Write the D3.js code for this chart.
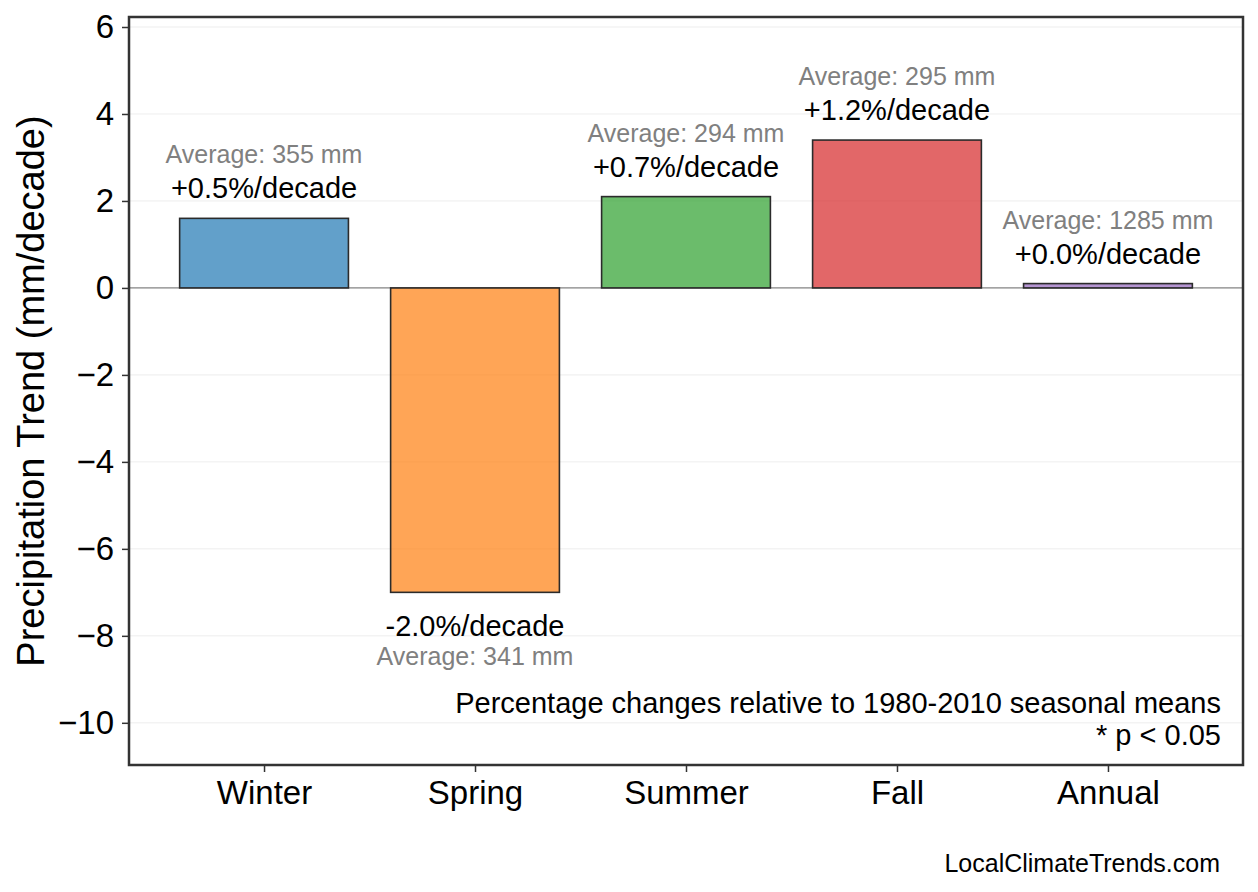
<!DOCTYPE html>
<html>
<head>
<meta charset="utf-8">
<script src="https://cdn.jsdelivr.net/npm/d3@7"></script>
<style>
  body { margin: 0; background: #fff; }
  text { font-family: "Liberation Sans", Arial, Helvetica, sans-serif; }
</style>
</head>
<body>
<svg id="chart" width="1258" height="892"></svg>
<script>
const seasons = ["Winter", "Spring", "Summer", "Fall", "Annual"];
const trends = [1.6, -7.0, 2.1, 3.4, 0.1];
const pctLabels = ["+0.5%/decade", "-2.0%/decade", "+0.7%/decade", "+1.2%/decade", "+0.0%/decade"];
const averages = [355, 341, 294, 295, 1285];
const barColors = ["#1f77b4", "#ff7f0e", "#2ca02c", "#d62728", "#9467bd"];
const yTicks = [-10, -8, -6, -4, -2, 0, 2, 4, 6];

const margin = {left: 129, right: 15, top: 17, bottom: 127};
const W = 1258, H = 892;
const plotW = W - margin.left - margin.right;
const plotH = H - margin.top - margin.bottom;

const svg = d3.select('#chart');
const g = svg.append('g').attr('transform', `translate(${margin.left},${margin.top})`);

const xScale = d3.scaleLinear().domain([-0.64, 4.64]).range([0, plotW]);
const yScale = d3.scaleLinear().domain([-10.97, 6.23]).range([plotH, 0]);
const barW = xScale(0.8) - xScale(0);

// grid
g.selectAll('.grid')
  .data(yTicks)
  .join('line')
  .attr('class', 'grid')
  .attr('x1', 0).attr('x2', plotW)
  .attr('y1', d => yScale(d)).attr('y2', d => yScale(d))
  .attr('stroke', '#e8e8e8')
  .attr('stroke-width', 0.8);

// zero line
g.append('line')
  .attr('x1', 0).attr('x2', plotW)
  .attr('y1', yScale(0)).attr('y2', yScale(0))
  .attr('stroke', '#888')
  .attr('stroke-width', 1.3);

// bars
g.selectAll('.bar')
  .data(trends)
  .join('rect')
  .attr('class', 'bar')
  .attr('x', (d, i) => xScale(i) - barW / 2)
  .attr('width', barW)
  .attr('y', d => yScale(Math.max(d, 0)))
  .attr('height', d => Math.abs(yScale(d) - yScale(0)))
  .attr('fill', (d, i) => barColors[i])
  .attr('fill-opacity', 0.7)
  .attr('stroke', '#2b2b2b')
  .attr('stroke-width', 1.6);

// percent labels
g.selectAll('.pct')
  .data(trends)
  .join('text')
  .attr('class', 'pct')
  .attr('x', (d, i) => xScale(i))
  .attr('y', d => d >= 0 ? yScale(d) - 20 : yScale(d) + 44)
  .attr('text-anchor', 'middle')
  .attr('font-size', 29)
  .attr('fill', '#000')
  .text((d, i) => pctLabels[i]);

// average labels
g.selectAll('.avg')
  .data(trends)
  .join('text')
  .attr('class', 'avg')
  .attr('x', (d, i) => xScale(i))
  .attr('y', d => d >= 0 ? yScale(d) - 55 : yScale(d) + 73)
  .attr('text-anchor', 'middle')
  .attr('font-size', 25)
  .attr('fill', '#808080')
  .text((d, i) => `Average: ${averages[i]} mm`);

// axes
const yAxis = g.append('g')
  .call(d3.axisLeft(yScale).tickValues(yTicks).tickSize(7).tickPadding(8)
    .tickFormat(d => d < 0 ? '\u2212' + Math.abs(d) : d));
yAxis.select('.domain').remove();
yAxis.selectAll('line').attr('stroke', '#333').attr('stroke-width', 1.5);
yAxis.selectAll('text').attr('font-size', 33).attr('fill', '#000');

const xAxis = g.append('g')
  .attr('transform', `translate(0,${plotH})`)
  .call(d3.axisBottom(xScale).tickValues(d3.range(seasons.length)).tickSize(7).tickPadding(9)
    .tickFormat(i => seasons[i]));
xAxis.select('.domain').remove();
xAxis.selectAll('line').attr('stroke', '#333').attr('stroke-width', 1.5);
xAxis.selectAll('text').attr('font-size', 33).attr('fill', '#000');

// frame
g.append('rect')
  .attr('width', plotW).attr('height', plotH)
  .attr('fill', 'none')
  .attr('stroke', '#333')
  .attr('stroke-width', 2.5);

// y label
svg.append('text')
  .attr('transform', `translate(44,${margin.top + plotH / 2}) rotate(-90)`)
  .attr('text-anchor', 'middle')
  .attr('font-size', 38)
  .attr('fill', '#000')
  .text('Precipitation Trend (mm/decade)');

// notes
g.append('text')
  .attr('x', plotW - 22).attr('y', 696)
  .attr('text-anchor', 'end')
  .attr('font-size', 29)
  .text('Percentage changes relative to 1980-2010 seasonal means');
g.append('text')
  .attr('x', plotW - 22).attr('y', 728)
  .attr('text-anchor', 'end')
  .attr('font-size', 29)
  .text('* p < 0.05');

svg.append('text')
  .attr('x', 1220).attr('y', 872)
  .attr('text-anchor', 'end')
  .attr('font-size', 25)
  .text('LocalClimateTrends.com');
</script>
</body>
</html>
